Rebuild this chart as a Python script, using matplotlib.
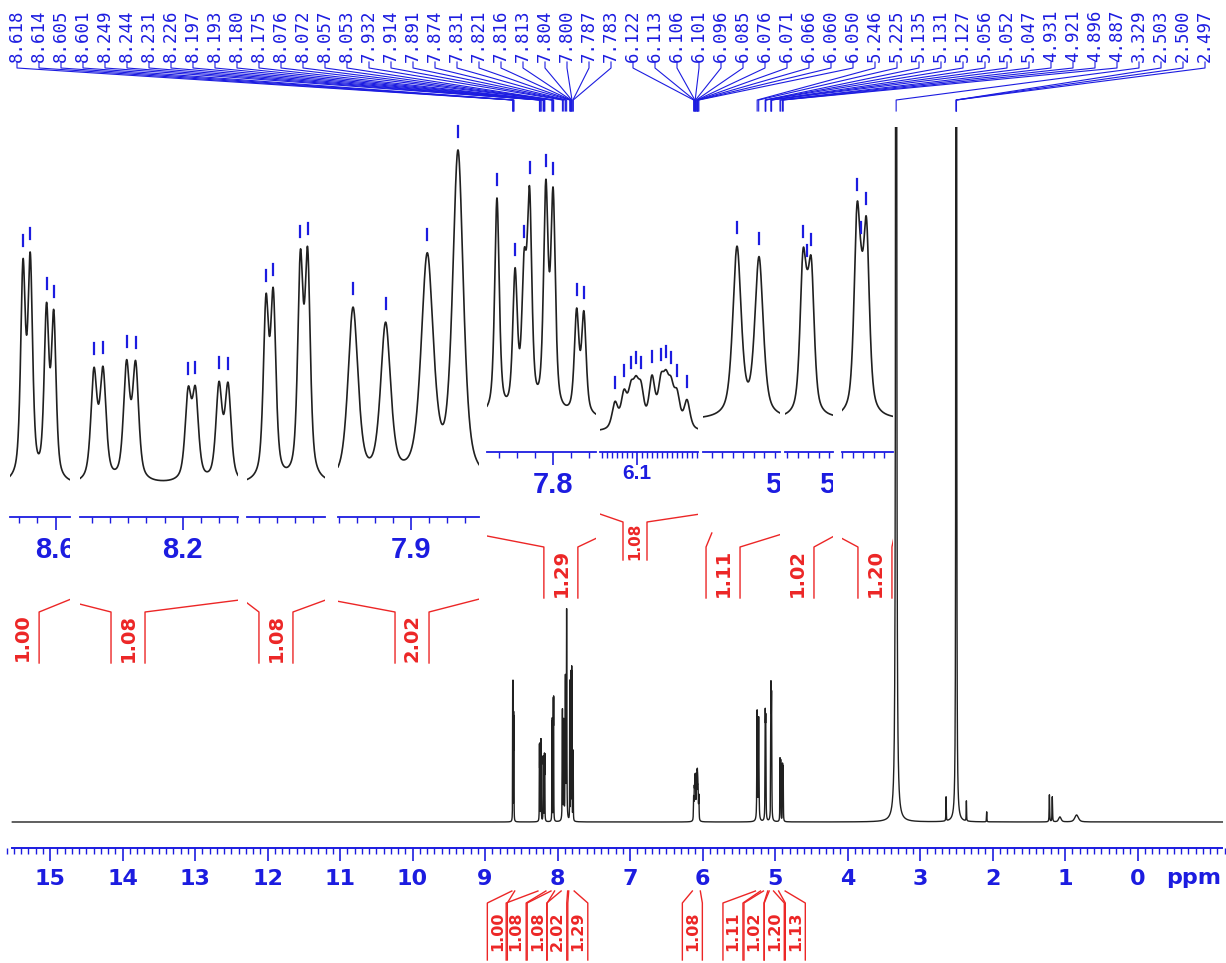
import numpy as np
import matplotlib
matplotlib.use("Agg")
import matplotlib.pyplot as plt
import matplotlib.transforms as mtransforms
from matplotlib.lines import Line2D
from matplotlib.ticker import MultipleLocator

W, H = 1226, 963
BLUE = '#1c1ce0'
RED = '#ec2626'
INK = '#202020'

# spectral lines: position (ppm), height (main spectrum units), full width (ppm)
line_ppm = [8.618, 8.614, 8.605, 8.601,
            8.249, 8.244, 8.231, 8.226, 8.197, 8.193, 8.180, 8.175,
            8.076, 8.072, 8.057, 8.053,
            7.932, 7.914, 7.891, 7.874,
            7.831, 7.821, 7.816, 7.813, 7.804, 7.800, 7.787, 7.783,
            6.122, 6.113, 6.106, 6.101, 6.096, 6.085, 6.076, 6.071, 6.066, 6.060, 6.050,
            5.246, 5.225, 5.135, 5.131, 5.127, 5.056, 5.052, 5.047,
            4.931, 4.921, 4.896, 4.887,
            3.329, 2.640, 2.503, 2.500, 2.497, 2.360, 2.080, 1.215, 1.175, 1.070, 0.840]
line_int = [126, 129, 100, 97,
            71, 71, 75, 75, 56, 56, 62, 62,
            90, 93, 111, 113,
            110, 98, 141, 208,
            140, 88, 83, 133, 141, 137, 65, 64,
            22, 28, 28, 28, 29, 41, 34, 31, 29, 26, 24,
            109, 102, 92, 28, 86, 117, 35, 112,
            62, 60, 56, 54,
            6000, 24, 3000, 3000, 3000, 20, 10, 27, 25, 5, 7]
line_fwhm = [0.0031] * 4 + [0.004] * 8 + [0.0035] * 4 + \
            [0.0066, 0.0066, 0.008, 0.007] + [0.003] * 8 + [0.007] * 11 + \
            [0.0095, 0.0095] + [0.0067] * 6 + [0.005] * 4 + \
            [0.008, 0.006, 0.004, 0.004, 0.004, 0.006, 0.006, 0.008, 0.008, 0.04, 0.06]

peak_labels = ['8.618', '8.614', '8.605', '8.601', '8.249', '8.244', '8.231', '8.226',
               '8.197', '8.193', '8.180', '8.175', '8.076', '8.072', '8.057', '8.053',
               '7.932', '7.914', '7.891', '7.874', '7.831', '7.821', '7.816', '7.813',
               '7.804', '7.800', '7.787', '7.783', '6.122', '6.113', '6.106', '6.101',
               '6.096', '6.085', '6.076', '6.071', '6.066', '6.060', '6.050', '5.246',
               '5.225', '5.135', '5.131', '5.127', '5.056', '5.052', '5.047', '4.931',
               '4.921', '4.896', '4.887', '3.329', '2.503', '2.500', '2.497']

int_from = [8.63, 8.27, 8.09, 7.95, 7.845, 6.14, 5.27, 5.16, 5.08, 4.95]
int_to = [8.59, 8.16, 8.04, 7.86, 7.77, 6.03, 5.20, 5.10, 5.02, 4.86]
int_vals = ['1.00', '1.08', '1.08', '2.02', '1.29', '1.08', '1.11', '1.02', '1.20', '1.13']
int_label_main = [8.83, 8.57, 8.28, 8.01, 7.72, 6.14, 5.58, 5.29, 5.01, 4.72]
int_label_inset = [8.6185, 8.2302, 8.0705, 7.8994, 7.7957, 6.102, 5.2593, 5.1407, 5.0389]

# inset windows (ppm) and their placement
inset_ppm = [(8.6252, 8.5920), (8.2567, 8.1695), (8.0865, 8.0434), (7.9403, 7.8624),
             (7.8365, 7.7763), (6.137, 6.039), (5.2784, 5.2050), (5.1521, 5.1064),
             (5.0703, 5.0217)]
inset_px = [(10, 70), (80, 238), (247, 325), (338, 479), (487, 596), (600, 698),
            (703, 780), (785, 833), (842, 893)]
inset_gain = [1.64, 1.5, 1.89, 1.57, 1.54, 1.16, 1.55, 1.52, 1.55]
inset_zero = [485, 485, 485, 485, 420, 432, 420, 420, 420]
inset_axis = [517, 517, 517, 517, 452, 452, 452, 452, 452]
inset_minor = [0.01, 0.01, 0.01, 0.01, 0.01, 0.005, 0.01, 0.01, 0.01]


def spectrum(x):
    y = np.zeros_like(x)
    for c, h, f in zip(line_ppm, line_int, line_fwhm):
        d = (x - c) / (f / 2)
        y += h * (0.6 / (1 + d * d) + 0.4 * np.exp(-np.log(2) * d * d))
    return y


def px_rect(x0, x1, ytop, ybot):
    return [x0 / W, 1 - ybot / H, (x1 - x0) / W, (ybot - ytop) / H]


fig = plt.figure(figsize=(W / 100, H / 100), dpi=100)
pxT = mtransforms.Affine2D().scale(1, -1).translate(0, H)  # pixels from top-left


def to_px(ax, xv, yv=0.0):
    dx, dy = ax.transData.transform((xv, yv))
    return dx, H - dy


def seg(xs, ys, color, lw, clip=None):
    ln = Line2D(xs, ys, color=color, lw=lw, transform=pxT)
    if clip is not None:
        ln.set_clip_box(clip)
        ln.set_clip_on(True)
    fig.add_artist(ln)


# ---------------- main spectrum ----------------
ax = fig.add_axes(px_rect(0, W, 127, 848))
ax.set_xlim(5 + 775 / 72.5, 5 - (W - 775) / 72.5)
ax.set_ylim(-26, 721 - 26)
xs = np.arange(-1.17, 15.52, 0.0004)
ax.plot(xs, spectrum(xs), color=INK, lw=1.0)
for s in ['left', 'right', 'top']:
    ax.spines[s].set_visible(False)
ax.spines['bottom'].set_color(BLUE)
ax.spines['bottom'].set_linewidth(1.4)
ax.spines['bottom'].set_bounds(15.52, -1.17)
ax.set_yticks([])
ax.set_xticks(range(0, 16))
ax.set_xticklabels([str(v) for v in range(0, 16)],
                   fontdict=dict(family=['Liberation Sans Narrow', 'DejaVu Sans'],
                                 weight='bold', size=16))
ax.xaxis.set_minor_locator(MultipleLocator(0.1))
ax.tick_params(axis='x', which='major', length=9, width=1.2, color=BLUE,
               labelcolor=BLUE, pad=6)
ax.tick_params(axis='x', which='minor', length=4.5, width=1.0, color=BLUE)
ax.set_facecolor('none')
xpx_ax = mtransforms.blended_transform_factory(ax.transData, pxT)
ax.text(-0.78, 878, 'ppm', transform=xpx_ax, ha='center', va='center', color=BLUE,
        family=['Liberation Sans Narrow', 'DejaVu Sans'], weight='bold', size=16)

# peak labels with the fan of connector lines
for i, s in enumerate(peak_labels):
    lx = 17 + 22 * i
    fig.text(lx, 62, s, transform=pxT, rotation=90, ha='center', va='bottom',
             color=BLUE, family='DejaVu Sans Mono', size=12.5)
    px_peak, _ = to_px(ax, float(s))
    seg([lx, lx, px_peak, px_peak], [62, 68, 100, 111], BLUE, 0.8)

# main integrals
for a, b, lab, val in zip(int_from, int_to, int_label_main, int_vals):
    xa, _ = to_px(ax, a)
    xb, _ = to_px(ax, b)
    xc, _ = to_px(ax, lab)
    hw = 10
    seg([xa, xc - hw, xc - hw], [891, 903, 960], RED, 1.0)
    seg([xb, xc + hw, xc + hw], [891, 903, 960], RED, 1.0)
    fig.text(xc, 931, val, transform=pxT, rotation=90, ha='center', va='center',
             color=RED, family='DejaVu Sans', weight='bold', size=11.5)

# ---------------- insets ----------------
for k in range(9):
    p0, p1 = inset_ppm[k]
    x0, x1 = inset_px[k]
    gain, zero, yax = inset_gain[k], inset_zero[k], inset_axis[k]
    ai = fig.add_axes(px_rect(x0, x1, 110, yax))
    ai.set_xlim(p0, p1)
    ai.set_ylim(-(yax - zero) / gain, (zero - 110) / gain)
    xi = np.linspace(p0, p1, 1500)
    ai.plot(xi, spectrum(xi), color=INK, lw=1.2)
    ai.set_facecolor('none')
    for s in ['left', 'right', 'top']:
        ai.spines[s].set_visible(False)
    ai.spines['bottom'].set_color(BLUE)
    ai.spines['bottom'].set_linewidth(1.3)
    ai.set_yticks([])
    ai.xaxis.set_major_locator(MultipleLocator(0.1))
    ai.xaxis.set_minor_locator(MultipleLocator(inset_minor[k]))
    ai.tick_params(axis='x', which='major', length=9, width=1.2, color=BLUE,
                   labelbottom=False)
    ai.tick_params(axis='x', which='minor', length=4, width=1.0, color=BLUE)
    clip = mtransforms.Bbox.from_extents(x0, 0, x1, H)

    # axis label (clipped at the window edge like the original)
    big = k != 5
    for v in np.arange(np.floor(p1 * 10) / 10, p0 + 0.03, 0.1):
        if p1 - 0.01 <= v <= p0 + 0.01:
            vx, _ = to_px(ai, v)
            t = fig.text(vx, yax + (33 if big else 21), f'{v:.1f}', transform=pxT,
                         ha='center', va='center', color=BLUE,
                         family='Liberation Sans', weight='bold', size=21 if big else 15,
                         clip_on=True)
            t.set_clip_box(clip)

    # peak pick marks
    for s in peak_labels:
        p = float(s)
        if p1 < p < p0:
            mx, my = to_px(ai, p, spectrum(np.array([p]))[0])
            seg([mx, mx], [my - 13, my - 24], BLUE, 1.6)

    # integral bracket
    xa, _ = to_px(ai, int_from[k])
    xb, _ = to_px(ai, int_to[k])
    xc, _ = to_px(ai, int_label_inset[k])
    if big:
        yo, yi, yb, hw, fs = yax + 81, yax + 95, yax + 146, 17, 14
    else:
        yo, yi, yb, hw, fs = yax + 61, yax + 70, yax + 108, 12, 11
    seg([xa, xc - hw, xc - hw], [yo, yi, yb], RED, 1.0, clip)
    seg([xb, xc + hw, xc + hw], [yo, yi, yb], RED, 1.0, clip)
    t = fig.text(xc, (yi + yb) / 2, int_vals[k], transform=pxT, rotation=90,
                 ha='center', va='center', color=RED, family='DejaVu Sans',
                 weight='bold', size=fs, clip_on=True)
    t.set_clip_box(clip)

fig.savefig('out.png', dpi=100)
